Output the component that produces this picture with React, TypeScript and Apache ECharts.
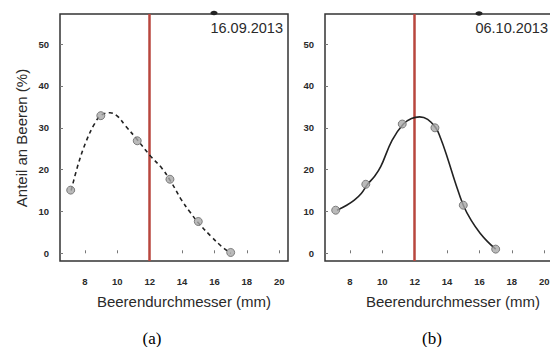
import React, { useEffect, useRef } from "react";
import * as echarts from "echarts";

// Measured points (x = berry diameter mm, y = share %)
const pointsX = [7.12, 8.98, 11.23, 13.25, 15.0, 17.0];
const pointsA = [15.1, 32.9, 26.9, 17.7, 7.6, 0.2];
const pointsB = [10.3, 16.5, 30.9, 30.0, 11.5, 1.0];

// Fitted curves
const curveA: [number, number][] = [
  [7.15, 15], [7.6, 21.5], [8.1, 27], [8.6, 31], [9.0, 33], [9.55, 33.6], [10.0, 32.8],
  [10.5, 30.5], [11.2, 27.3], [12.06, 23.2], [12.74, 20.4], [13.3, 17.2], [13.97, 12.7],
  [14.5, 9.8], [15.0, 7.3], [15.8, 4], [16.4, 1.8], [17.0, 0],
];
const curveB: [number, number][] = [
  [7.2, 10.3], [7.8, 11.5], [8.27, 12.7], [8.7, 14.3], [9.09, 16.5], [9.5, 18.3], [9.9, 20.7],
  [10.6, 27], [11.3, 30.9], [11.8, 32.2], [12.3, 32.6], [12.8, 32], [13.3, 30], [13.6, 27.5],
  [14.0, 23.1], [14.5, 17], [15.0, 11.5], [15.5, 7.8], [16.04, 4.8], [16.5, 2.8], [17.0, 1.0],
];

const xTicks = [8, 10, 12, 14, 16, 18, 20];
const yTicks = [0, 10, 20, 30, 40, 50];
const refLine = 12;
const dates = ["16.09.2013", "06.10.2013"];
const captions = ["(a)", "(b)"];
const xName = "Beerendurchmesser (mm)";
const yName = "Anteil an Beeren (%)";

export default function App() {
  const ref = useRef<HTMLDivElement>(null);
  useEffect(() => {
    const chart = echarts.init(ref.current!, null, { renderer: "svg" });
    const font = "'Liberation Sans', Arial, sans-serif";
    const mkX = (gi: number) => ({
      type: "value",
      gridIndex: gi,
      min: 6.46,
      max: 20.54,
      axisLine: { show: false },
      splitLine: { show: false },
      axisTick: { show: true, inside: true, length: 3, customValues: xTicks, lineStyle: { color: "#777" } },
      axisLabel: { customValues: xTicks, fontSize: 9.5, fontWeight: "bold", color: "#2a2a2a", margin: 15, fontFamily: font },
    });
    const mkY = (gi: number) => ({
      type: "value",
      gridIndex: gi,
      min: -1.84,
      max: 57.2,
      axisLine: { show: false },
      splitLine: { show: false },
      axisTick: { show: true, inside: true, length: 3, customValues: yTicks, lineStyle: { color: "#777" } },
      axisLabel: { customValues: yTicks, fontSize: 9.5, fontWeight: "bold", color: "#2a2a2a", margin: 11, fontFamily: font },
    });
    const pointSeries = (gi: number, vals: number[]) => ({
      type: "scatter",
      xAxisIndex: gi,
      yAxisIndex: gi,
      data: pointsX.map((x, i) => [x, vals[i]]),
      symbolSize: 8,
      itemStyle: { color: "#a9a9a9", borderColor: "#666", borderWidth: 1 },
      z: 5,
    });
    const curveSeries = (gi: number, data: [number, number][], dashed: boolean) => ({
      type: "line",
      xAxisIndex: gi,
      yAxisIndex: gi,
      data,
      smooth: 0.4,
      showSymbol: false,
      symbol: "none",
      lineStyle: { color: "#222", width: 1.6, type: dashed ? [4, 3.5] : "solid" },
      z: 3,
      markLine: {
        silent: true,
        symbol: "none",
        label: { show: false },
        lineStyle: { color: "#b8463e", width: 2.5, type: "solid" },
        data: [{ xAxis: refLine }],
        z: 2,
      },
    });
    chart.setOption({
      animation: false,
      grid: [
        { left: 60, top: 14, width: 228, height: 247, show: true, borderColor: "#333", borderWidth: 1.5, backgroundColor: "transparent" },
        { left: 325, top: 14, width: 228, height: 247, show: true, borderColor: "#333", borderWidth: 1.5, backgroundColor: "transparent" },
      ],
      xAxis: [mkX(0), mkX(1)],
      yAxis: [mkY(0), mkY(1)],
      series: [
        curveSeries(0, curveA, true),
        pointSeries(0, pointsA),
        curveSeries(1, curveB, false),
        pointSeries(1, pointsB),
      ],
      graphic: [
        { type: "ellipse", shape: { cx: 214, cy: 13, rx: 3.5, ry: 2.2 }, style: { fill: "#222" } },
        { type: "ellipse", shape: { cx: 479, cy: 13.5, rx: 3.5, ry: 2.2 }, style: { fill: "#222" } },
        { type: "text", x: 283, y: 28, style: { text: dates[0], fontSize: 14.5, fill: "#2a2a2a", align: "right", verticalAlign: "middle", fontFamily: font } },
        { type: "text", x: 548, y: 28, style: { text: dates[1], fontSize: 14.5, fill: "#2a2a2a", align: "right", verticalAlign: "middle", fontFamily: font } },
        { type: "text", x: 184, y: 301, style: { text: xName, fontSize: 15, fill: "#2a2a2a", align: "center", verticalAlign: "middle", fontFamily: font } },
        { type: "text", x: 453, y: 301, style: { text: xName, fontSize: 15, fill: "#2a2a2a", align: "center", verticalAlign: "middle", fontFamily: font } },
        { type: "text", x: 21, y: 138, rotation: Math.PI / 2, style: { text: yName, fontSize: 15, fill: "#2a2a2a", align: "center", verticalAlign: "middle", fontFamily: font } },
        { type: "text", x: 152, y: 338, style: { text: captions[0], fontSize: 17, fill: "#000", align: "center", verticalAlign: "middle", fontFamily: "'Liberation Serif', 'Times New Roman', serif" } },
        { type: "text", x: 432, y: 338, style: { text: captions[1], fontSize: 17, fill: "#000", align: "center", verticalAlign: "middle", fontFamily: "'Liberation Serif', 'Times New Roman', serif" } },
      ],
    });
    return () => chart.dispose();
  }, []);
  return (
    <div
      ref={ref}
      style={{ position: "fixed", left: 0, top: 0, width: 560, height: 347, background: "#fff" }}
    />
  );
}
